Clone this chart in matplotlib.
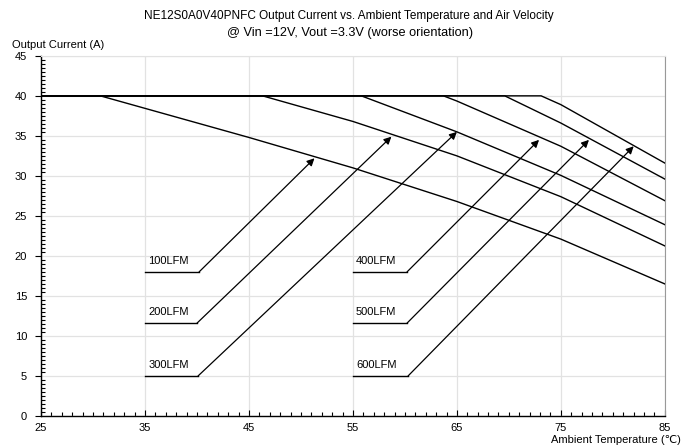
import numpy as np
import matplotlib.pyplot as plt
from matplotlib.ticker import MultipleLocator

plt.rcParams['font.family'] = ['Liberation Sans', 'DejaVu Sans']

# derating curves (temperature in C, current in A)
temp_100 = [25, 30.7, 45, 55, 65, 75, 85]
curr_100 = [40, 40, 34.8, 31.0, 26.8, 22.1, 16.5]
temp_200 = [25, 46.3, 55, 65, 75, 85]
curr_200 = [40, 40, 36.8, 32.5, 27.4, 21.25]
temp_300 = [25, 55.8, 65, 75, 85]
curr_300 = [40, 40, 35.5, 30.06, 23.9]
temp_400 = [25, 63.7, 65, 75, 85]
curr_400 = [40, 40, 39.35, 33.7, 26.9]
temp_500 = [25, 69.6, 75, 85]
curr_500 = [40, 40, 36.6, 29.6]
temp_600 = [25, 73.1, 75, 85]
curr_600 = [40, 40, 38.9, 31.6]

curves = [(temp_100, curr_100), (temp_200, curr_200), (temp_300, curr_300),
          (temp_400, curr_400), (temp_500, curr_500), (temp_600, curr_600)]

# labels: text, underline start/end temp, underline current, arrow tip
labels = ['100LFM', '200LFM', '300LFM', '400LFM', '500LFM', '600LFM']
label_x0 = [35, 35, 35, 55, 55, 55]
label_x1 = [40.2, 40.0, 40.1, 60.2, 60.2, 60.3]
label_y = [18.0, 11.6, 5.0, 18.0, 11.6, 5.0]
tip_x = [51.3, 58.7, 65.0, 72.9, 77.7, 82.0]
tip_y = [32.2, 34.9, 35.5, 34.5, 34.5, 33.7]

x_ticks = [25, 35, 45, 55, 65, 75, 85]

fig = plt.figure(figsize=(6.84, 4.48), dpi=100)
ax = fig.add_axes([0.060, 0.0714, 0.912, 0.804])

for t, c in curves:
    ax.plot(t, c, color='black', lw=1.0, zorder=3)

for i in range(len(labels)):
    ax.plot([label_x0[i], label_x1[i]], [label_y[i], label_y[i]], color='black', lw=1.0)
    ax.annotate('', xy=(tip_x[i], tip_y[i]), xytext=(label_x1[i], label_y[i]),
                arrowprops=dict(arrowstyle='-|>', color='black', lw=0.9,
                                mutation_scale=11, shrinkA=0, shrinkB=0))
    ax.text(label_x0[i] + 0.3, label_y[i] + 0.8, labels[i], fontsize=8,
            ha='left', va='bottom')

ax.set_xlim(25, 85)
ax.set_ylim(0, 45)
ax.set_xticks(x_ticks)
ax.xaxis.set_minor_locator(MultipleLocator(1))
ax.yaxis.set_major_locator(MultipleLocator(5))
ax.yaxis.set_minor_locator(MultipleLocator(0.5))
ax.grid(True, which='major', color='#e2e2e2', lw=0.9, zorder=0)
ax.set_axisbelow(True)

ax.tick_params(axis='both', which='major', labelsize=8, length=4, width=0.8)
ax.tick_params(axis='x', which='major', direction='in', pad=5)
ax.tick_params(axis='y', which='major', direction='out', pad=6)
ax.tick_params(axis='both', which='minor', direction='in', length=3, width=0.8)

for s in ['left', 'bottom']:
    ax.spines[s].set_color('black')
    ax.spines[s].set_linewidth(1.0)
ax.spines['top'].set_color('#e2e2e2')
ax.spines['right'].set_color('#999999')

fig.text(349 / 684, 1 - 16 / 448, 'NE12S0A0V40PNFC Output Current vs. Ambient Temperature and Air Velocity',
         ha='center', va='center', fontsize=8.5)
fig.text(350 / 684, 1 - 33 / 448, '@ Vin =12V, Vout =3.3V (worse orientation)',
         ha='center', va='center', fontsize=9.2)
fig.text(12 / 684, 1 - 45 / 448, 'Output Current (A)', ha='left', va='center', fontsize=8)
fig.text(681 / 684, 1 - 440 / 448, 'Ambient Temperature (\u2103)', ha='right', va='center', fontsize=8)

fig.savefig('out.png', dpi=100)
